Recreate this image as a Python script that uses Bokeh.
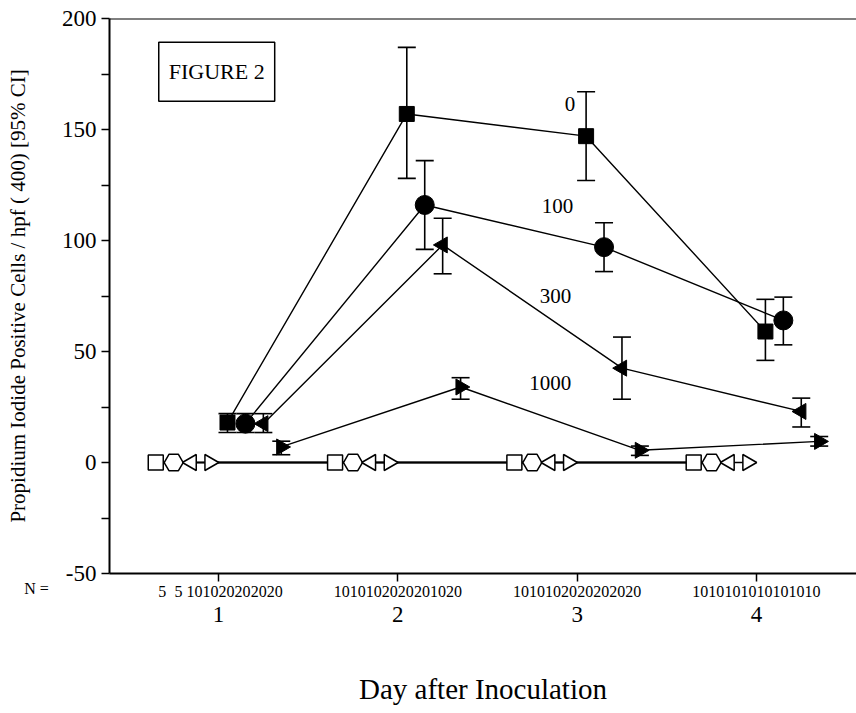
import math
from bokeh.plotting import figure
from bokeh.models import (ColumnDataSource, Whisker, TeeHead, FixedTicker, Label,
                          LinearAxis, Span, Range1d)
from bokeh.core.properties import value
from bokeh.embed import file_html
from bokeh.resources import INLINE

FONT = "Liberation Serif"

# ---------------- data ----------------
days = [1, 2, 3, 4]
day_tick_labels = ["1", "2", "3", "4"]

# dose groups with cells (filled markers), mean and 95% CI
dose_names = ["0", "100", "300", "1000"]
mean_0 = [18, 157, 147, 59]
lo_0 = [13.5, 128, 127, 46]
hi_0 = [22, 187, 167, 73.5]

mean_100 = [17.5, 116, 97, 64]
lo_100 = [13.5, 96, 86, 53]
hi_100 = [22, 136, 108, 74.5]

mean_300 = [17.5, 98, 42.5, 23]
lo_300 = [13.5, 85, 28.5, 16]
hi_300 = [22, 110, 56.5, 29]

mean_1000 = [7, 34, 5.5, 9.5]
lo_1000 = [3.5, 28.5, 3.2, 7.4]
hi_1000 = [9.6, 38.2, 7.4, 11.7]

# control groups (open markers), all zero
ctrl_0 = [0, 0, 0, 0]
ctrl_100 = [0, 0, 0, 0]
ctrl_300 = [0, 0, 0, 0]
ctrl_1000 = [0, 0, 0, 0]

# N per group (8 groups per day, in cluster order)
n_day1 = ["5", "5", "10", "10", "20", "20", "20", "20"]
n_day2 = ["10", "10", "10", "20", "20", "20", "10", "20"]
n_day3 = ["10", "10", "10", "20", "20", "20", "20", "20"]
n_day4 = ["10", "10", "10", "10", "10", "10", "10", "10"]

# cluster offsets of the 8 groups around each day (markers)
offsets = [-0.35, -0.25, -0.15, -0.05, 0.05, 0.15, 0.25, 0.35]
# tighter spacing used for the N row under each day
n_step = 0.0895

# ---------------- figure ----------------
p = figure(width=856, height=713, output_backend="svg", toolbar_location=None,
           x_range=Range1d(0.392, 4.558), y_range=Range1d(-50, 200),
           min_border_left=109, min_border_right=0, min_border_top=18,
           min_border_bottom=140)
p.xgrid.visible = False
p.ygrid.visible = False
p.outline_line_color = None
p.background_fill_color = "white"

# y axis
ya = p.yaxis[0]
ya.ticker = FixedTicker(ticks=[-50, 0, 50, 100, 150, 200],
                        minor_ticks=[-25, 25, 75, 125, 175])
ya.major_label_overrides = {-50: "-50"}
ya.major_tick_out = 8
ya.major_tick_in = 0
ya.minor_tick_out = 8
ya.minor_tick_in = 0
ya.minor_tick_line_color = "black"
ya.major_tick_line_width = 1.5
ya.minor_tick_line_width = 1.5
ya.axis_line_width = 2
ya.major_label_text_font = FONT
ya.major_label_text_font_size = "23px"
ya.major_label_text_color = "black"
ya.major_label_standoff = 5
ya.axis_label = "Propidium Iodide Positive Cells / hpf ( 400) [95% CI]"
ya.axis_label_text_font = FONT
ya.axis_label_text_font_style = "normal"
ya.axis_label_text_font_size = "21px"
ya.axis_label_text_color = "black"
ya.axis_label_standoff = 29

# x axis (closest to frame): axis line, day tick marks, N labels per group
n_all = n_day1 + n_day2 + n_day3 + n_day4
n_x = [round(d + (i - 3.5) * n_step, 4) for d in days for i in range(8)]
xa = p.xaxis[0]
xa.ticker = FixedTicker(ticks=n_x, minor_ticks=days)
xa.major_label_overrides = {x: t for x, t in zip(n_x, n_all)}
xa.major_tick_line_color = None
xa.major_tick_out = 0
xa.major_tick_in = 0
xa.minor_tick_line_color = "black"
xa.minor_tick_out = 8
xa.minor_tick_in = 0
xa.minor_tick_line_width = 1.5
xa.axis_line_width = 2
xa.major_label_text_font = FONT
xa.major_label_text_font_size = "16px"
xa.major_label_text_color = "black"
xa.major_label_standoff = 4

# second x axis: day labels and title
xb = LinearAxis(ticker=FixedTicker(ticks=days, minor_ticks=[]))
xb.major_label_overrides = {d: s for d, s in zip(days, day_tick_labels)}
xb.axis_line_color = None
xb.major_tick_line_color = None
xb.minor_tick_line_color = None
xb.major_tick_out = 0
xb.major_tick_in = 0
xb.major_label_text_font = FONT
xb.major_label_text_font_size = "23px"
xb.major_label_text_color = "black"
xb.major_label_standoff = 7
xb.axis_label = "Day after Inoculation"
xb.axis_label_text_font = FONT
xb.axis_label_text_font_style = "normal"
xb.axis_label_text_font_size = "29px"
xb.axis_label_text_color = "black"
xb.axis_label_standoff = 48
p.add_layout(xb, "below")

# "N =" tag, placed in the (otherwise empty) top side panel so the frame does not clip it;
# screen offsets are measured from that panel's lower-left corner
p.add_layout(Label(x=-73, y=-570, x_units="screen", y_units="screen", text="N =",
                   text_font=FONT, text_font_size="16px", text_align="center",
                   text_baseline="middle", text_color="black"), "above")

# top frame line
p.add_layout(Span(location=200, dimension="width", line_color="black", line_width=2))

# ---------------- control (open) groups ----------------
ctrl_series = [ctrl_0, ctrl_100, ctrl_300, ctrl_1000]
ctrl_markers = [("square", 0.0, 15), ("hex", 0.0, 19),
                ("triangle", math.pi / 2, 16), ("triangle", -math.pi / 2, 16)]
for k, vals in enumerate(ctrl_series):
    xs = [d + offsets[k] for d in days]
    p.line(xs, vals, line_color="black", line_width=1.5)
for k, (vals, (mk, ang, sz)) in enumerate(zip(ctrl_series, ctrl_markers)):
    xs = [d + offsets[k] for d in days]
    p.scatter(xs, vals, marker=mk, angle=ang, size=sz, fill_color="white",
              line_color="black", line_width=1.5)

# ---------------- treated (filled) groups ----------------
means = [mean_0, mean_100, mean_300, mean_1000]
los = [lo_0, lo_100, lo_300, lo_1000]
his = [hi_0, hi_100, hi_300, hi_1000]
fill_markers = [("square", 0.0, 15), ("circle", 0.0, 19),
                ("triangle", math.pi / 2, 16), ("triangle", -math.pi / 2, 16)]

for k in range(4):
    xs = [d + offsets[4 + k] for d in days]
    p.line(xs, means[k], line_color="black", line_width=1.4)
for k in range(4):
    xs = [d + offsets[4 + k] for d in days]
    src = ColumnDataSource(dict(x=xs, lo=los[k], hi=his[k]))
    w = Whisker(base="x", lower="lo", upper="hi", source=src, dimension="height",
                line_color="black", line_width=1.6,
                upper_head=TeeHead(size=18, line_color="black", line_width=1.6),
                lower_head=TeeHead(size=18, line_color="black", line_width=1.6))
    p.add_layout(w)
for k in range(4):
    xs = [d + offsets[4 + k] for d in days]
    mk, ang, sz = fill_markers[k]
    p.scatter(xs, means[k], marker=mk, angle=ang, size=sz, fill_color="black",
              line_color="black", line_width=1)

# ---------------- dose labels ----------------
dose_lx = [2.96, 2.89, 2.88, 2.85]
dose_ly = [161.5, 115.5, 75, 36]
p.text(dose_lx, dose_ly, text=dose_names, text_font=value(FONT),
       text_font_size="21px", text_align="center", text_baseline="middle",
       text_color="black")

# ---------------- figure tag ----------------
p.add_layout(Label(x=0.99, y=176, text="FIGURE 2", text_font=FONT,
                   text_font_size="22px", text_align="center",
                   text_baseline="middle", text_color="black",
                   border_line_color="black", border_line_width=1.5,
                   background_fill_color="white", padding=(10, 17)))

open("out.html", "w").write(file_html(p, INLINE))
